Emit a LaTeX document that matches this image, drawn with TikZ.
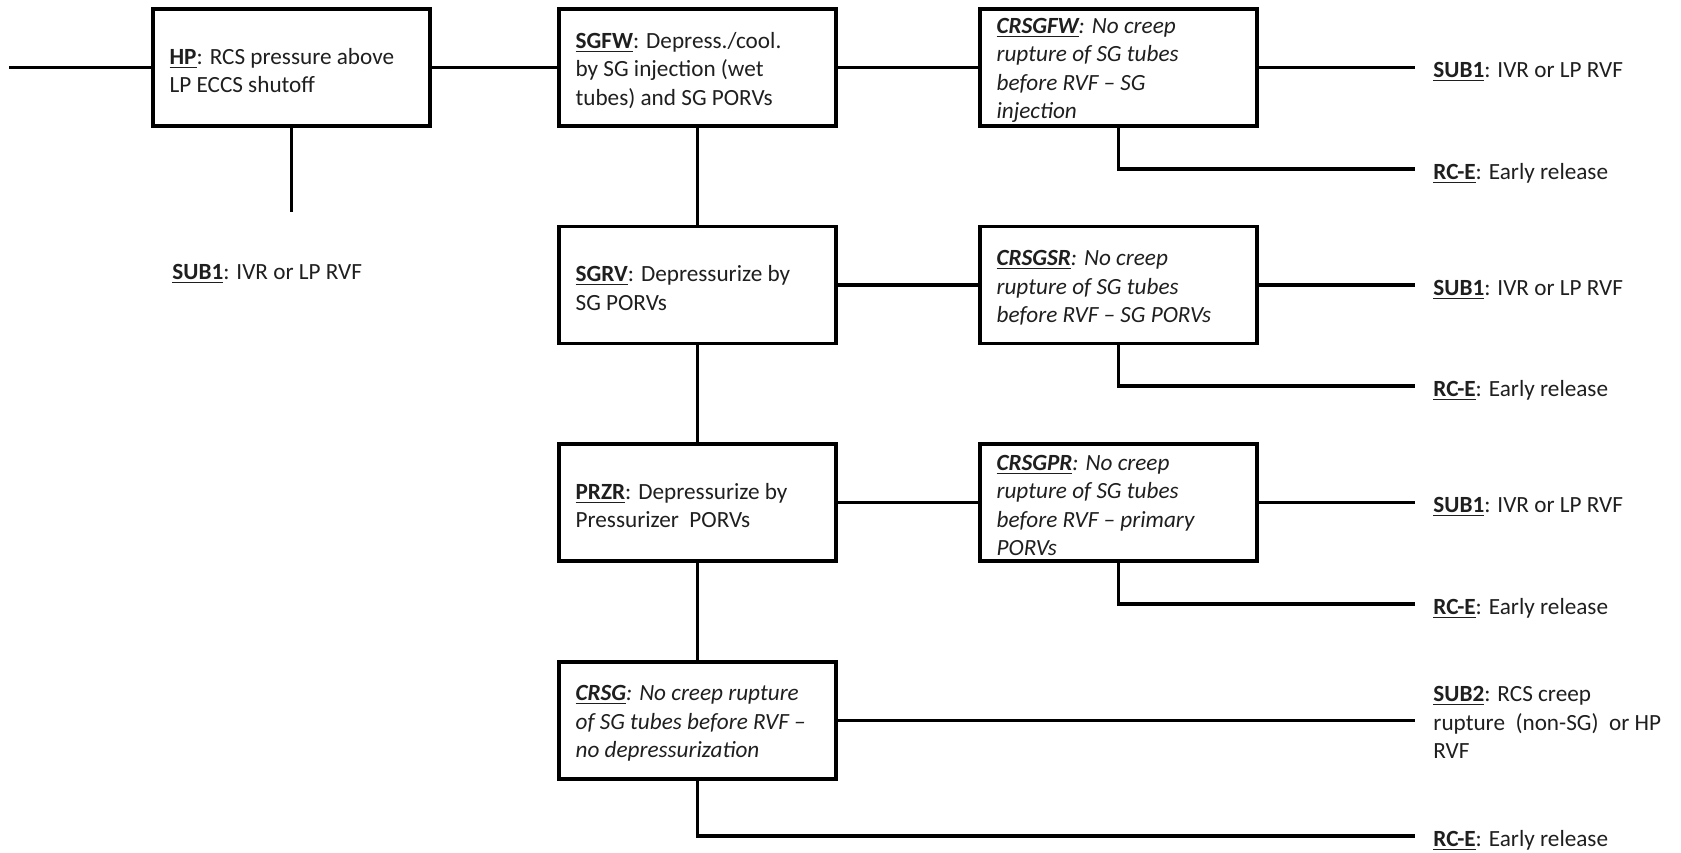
\documentclass[tikz,border=0pt]{standalone}
\usepackage{fontspec}
\setmainfont{Carlito}
\usetikzlibrary{calc}

% one unit = one pixel of the drawing, y grows downwards
\tikzset{
  x=0.5pt, y=-0.5pt,
  link/.style={line width=1.8pt, draw=black},
  evbox/.style={draw=black, line width=1.8pt, fill=white,
    minimum width=138.5pt, minimum height=58.5pt, inner sep=0pt},
  basefont/.style={font=\fontsize{11.6}{14.2}\selectfont},
  evtext/.style={basefont, anchor=west, inner sep=0pt, align=left, text=black!88},
  crtext/.style={evtext, font=\fontsize{11.6}{14.2}\selectfont\itshape},
  endtext/.style={basefont, anchor=base west, inner sep=0pt, align=left, text=black!88},
  endblock/.style={evtext},
}
\newcommand{\evlabel}[1]{\underline{\textbf{#1}}}

\begin{document}
\begin{tikzpicture}
\useasboundingbox[fill=white] (0,0) rectangle (1681,852);

% event boxes
\node[evbox] (hp)    at (291.5,67.5)  {};
\node[evbox] (sgfw)  at (697.5,67.5)  {};
\node[evbox] (sgrv)  at (697.5,285)   {};
\node[evbox] (przr)  at (697.5,502.5) {};
\node[evbox] (crsg)  at (697.5,720.5) {};
\node[evbox] (crfw)  at (1118.5,67.5) {};
\node[evbox] (crsr)  at (1118.5,285)  {};
\node[evbox] (crpr)  at (1118.5,502.5){};

% box texts
\node[evtext] (hpt)   at ($(hp.west)+(18,3)$)   {\evlabel{HP}: RCS pressure above\\LP ECCS shutoff};
\node[evtext] (sgfwt) at ($(sgfw.west)+(18,3)$) {\evlabel{SGFW}: Depress./cool.\\by SG injection (wet\\tubes) and SG PORVs};
\node[evtext] (sgrvt) at ($(sgrv.west)+(18,3)$) {\evlabel{SGRV}: Depressurize by\\SG PORVs};
\node[evtext] (przrt) at ($(przr.west)+(18,3)$) {\evlabel{PRZR}: Depressurize by\\Pressurizer~ PORVs};
\node[crtext] (crsgt) at ($(crsg.west)+(18,3)$) {\evlabel{CRSG}: No creep rupture\\of SG tubes before RVF --\\no depressurization};
\node[crtext] (crfwt) at ($(crfw.west)+(18,3)$) {\evlabel{CRSGFW}: No creep\\rupture of SG tubes\\before RVF -- SG\\injection};
\node[crtext] (crsrt) at ($(crsr.west)+(18,3)$) {\evlabel{CRSGSR}: No creep\\rupture of SG tubes\\before RVF -- SG PORVs};
\node[crtext] (crprt) at ($(crpr.west)+(18,3)$) {\evlabel{CRSGPR}: No creep\\rupture of SG tubes\\before RVF -- primary\\PORVs};

% free ends of the branches
\coordinate (in)   at (9,67.5);
\coordinate (hpe)  at (291.5,212);
\coordinate (e1)   at (1415,67.5);
\coordinate (r1)   at (1415,169);
\coordinate (e2)   at (1415,285);
\coordinate (r2)   at (1415,386);
\coordinate (e3)   at (1415,502.5);
\coordinate (r3)   at (1415,604);
\coordinate (e4)   at (1415,720.5);
\coordinate (r4)   at (1415,836);

% branches
\draw[link] (in) -- (hp.west);
\draw[link] (hp.east) -- (sgfw.west);
\draw[link] (hp.south) -- (hpe);
\draw[link] (sgfw.east) -- (crfw.west);
\draw[link] (sgfw.south) -- (sgrv.north);
\draw[link] (sgrv.east) -- (crsr.west);
\draw[link] (sgrv.south) -- (przr.north);
\draw[link] (przr.east) -- (crpr.west);
\draw[link] (przr.south) -- (crsg.north);
\draw[link] (crfw.east) -- (e1);
\draw[link] (crfw.south) |- (r1);
\draw[link] (crsr.east) -- (e2);
\draw[link] (crsr.south) |- (r2);
\draw[link] (crpr.east) -- (e3);
\draw[link] (crpr.south) |- (r3);
\draw[link] (crsg.east) -- (e4);
\draw[link] (crsg.south) |- (r4);

% end state labels
\node[endtext] (hps)  at (172,279)        {\evlabel{SUB1}: IVR or LP RVF};
\node[endtext] (e1t)  at ($(e1)+(18,10)$) {\evlabel{SUB1}: IVR or LP RVF};
\node[endtext] (r1t)  at ($(r1)+(18,10)$) {\evlabel{RC-E}: Early release};
\node[endtext] (e2t)  at ($(e2)+(18,10)$) {\evlabel{SUB1}: IVR or LP RVF};
\node[endtext] (r2t)  at ($(r2)+(18,10)$) {\evlabel{RC-E}: Early release};
\node[endtext] (e3t)  at ($(e3)+(18,10)$) {\evlabel{SUB1}: IVR or LP RVF};
\node[endtext] (r3t)  at ($(r3)+(18,10)$) {\evlabel{RC-E}: Early release};
\node[endblock] (e4t) at ($(e4)+(18,2)$)  {\evlabel{SUB2}: RCS creep\\rupture~ (non-SG)~ or HP\\RVF};
\node[endtext] (r4t)  at ($(r4)+(18,10)$) {\evlabel{RC-E}: Early release};
\end{tikzpicture}
\end{document}
